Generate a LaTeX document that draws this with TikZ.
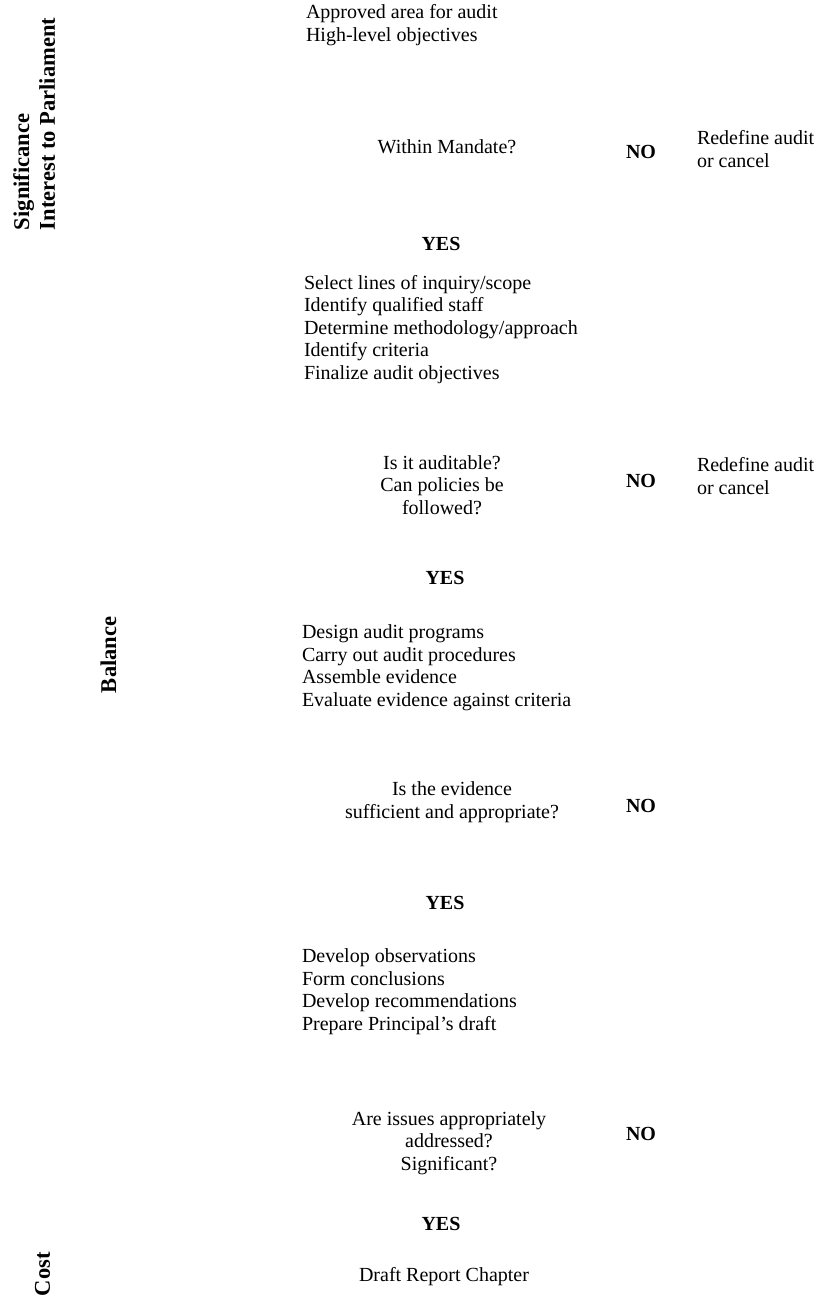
\documentclass[tikz,border=0pt]{standalone}
\usepackage{fontspec}
\setmainfont{Liberation Serif}
\begin{document}
\begin{tikzpicture}[x=0.75pt,y=-0.75pt,
  every node/.style={inner sep=0pt,outer sep=0pt},
  body/.style={font=\fontsize{15pt}{16.8pt}\selectfont},
  steplist/.style={body,align=left,anchor=base west},
  question/.style={body,align=center,anchor=base},
  answer/.style={font=\fontsize{15pt}{16.8pt}\selectfont\bfseries,anchor=base},
  sidelabel/.style={font=\fontsize{16.9pt}{19.5pt}\selectfont\bfseries,align=left,anchor=base west,rotate=90}]
\useasboundingbox (0,0) rectangle (817,1297);
% side labels (base = baseline of last line)
\node[sidelabel] (sig) at (55,230) {Significance\\Interest to Parliament};
\node[sidelabel] (bal) at (116,693) {Balance};
\node[sidelabel] (cost) at (50,1296) {Cost};
% stage 1
\node[steplist] (s1) at (306,41) {Approved area for audit\\High-level objectives};
\node[question] (q1) at (447,153) {Within Mandate?};
\node[answer] (n1) at (641,158) {NO};
\node[steplist] (r1) at (697,167) {Redefine audit\\or cancel};
\node[answer] (y1) at (441,250) {YES};
% stage 2
\node[steplist] (s2) at (304,379) {Select lines of inquiry/scope\\Identify qualified staff\\Determine methodology/approach\\Identify criteria\\Finalize audit objectives};
\node[question] (q2) at (442,514) {Is it auditable?\\Can policies be\\followed?};
\node[answer] (n2) at (641,487) {NO};
\node[steplist] (r2) at (697,494) {Redefine audit\\or cancel};
\node[answer] (y2) at (445,584) {YES};
% stage 3
\node[steplist] (s3) at (302,706) {Design audit programs\\Carry out audit procedures\\Assemble evidence\\Evaluate evidence against criteria};
\node[question] (q3) at (452,818) {Is the evidence\\sufficient and appropriate?};
\node[answer] (n3) at (641,812) {NO};
\node[answer] (y3) at (445,909) {YES};
% stage 4
\node[steplist] (s4) at (302,1030) {Develop observations\\Form conclusions\\Develop recommendations\\Prepare Principal’s draft};
\node[question] (q4) at (449,1170) {Are issues appropriately\\addressed?\\Significant?};
\node[answer] (n4) at (641,1140) {NO};
\node[answer] (y4) at (441,1230) {YES};
\node[question] (final) at (444,1281) {Draft Report Chapter};
\end{tikzpicture}
\end{document}
